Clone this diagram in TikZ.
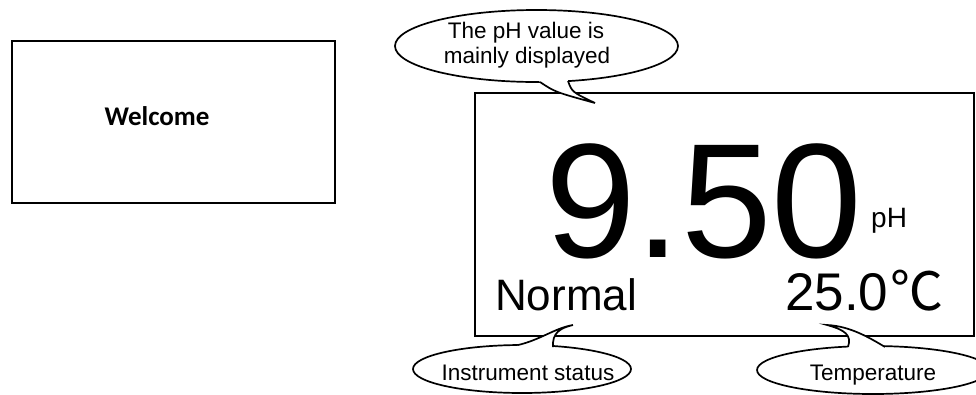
\documentclass[tikz,border=0pt]{standalone}
\usepackage{fontspec}
\setmainfont{Liberation Sans}
\newfontfamily\welcomefont{Carlito}
\newfontfamily\cjkfont{Noto Sans CJK JP}
\begin{document}
\begin{tikzpicture}[x=1pt,y=-1pt,
  boxframe/.style={draw=black,line width=2.4pt,inner sep=0pt,anchor=north west},
  bubble/.style={draw=black,fill=white,line width=1.7pt},
  tailfill/.style={fill=white},
  tailline/.style={draw=black,line width=1.7pt,line join=miter},
  lbl/.style={inner sep=0pt,anchor=base,font=\fontsize{22.5}{26}\selectfont},
  bigtxt/.style={inner sep=0pt,anchor=base west}]
\useasboundingbox[fill=white] (0,0) rectangle (976,394);

% Welcome box
\node[boxframe,minimum width=323pt,minimum height=162pt] (welcomebox) at (11,40) {};
\node[inner sep=0pt,font=\welcomefont\bfseries\fontsize{27}{30}\selectfont] (welcome) at (157,116) {Welcome};

% Display frame
\node[boxframe,line width=2pt,minimum width=499pt,minimum height=243pt] (display) at (474,92) {};

% Top callout
\draw[bubble] (536.5,46) ellipse [x radius=141.5pt, y radius=36pt];
\fill[tailfill] (536,77) -- (540,82) .. controls (555,92) .. (595,103) .. controls (572,92) .. (568,81) -- (567,76) -- cycle;
\draw[tailline] (540,82) .. controls (555,92) .. (595,103) .. controls (572,92) .. (568,81);
\node[lbl] (note1a) at (526,38) {The pH value is};
\node[lbl] (note1b) at (527,63) {mainly displayed};

% Instrument status callout
\draw[bubble] (522,369) ellipse [x radius=109pt, y radius=24pt];
\fill[tailfill] (517,350) -- (518,345) .. controls (540,340) and (555,328) .. (573,325) .. controls (560,328) and (552,333) .. (553,347) -- (553,351) -- cycle;
\draw[tailline] (518,345) .. controls (540,340) and (555,328) .. (573,325) .. controls (560,328) and (552,333) .. (553,347);
\node[lbl] (note2) at (528,380) {Instrument status};

% Temperature callout
\draw[bubble] (873,370) ellipse [x radius=116pt, y radius=24pt];
\fill[tailfill] (848,351) -- (848,347) .. controls (852,335) and (845,330) .. (827,325) .. controls (850,326) and (870,338) .. (885,347) -- (884,351) -- cycle;
\draw[tailline] (848,347) .. controls (852,335) and (845,330) .. (827,325) .. controls (850,326) and (870,338) .. (885,347);
\node[lbl] (note3) at (873,380) {Temperature};

% Display contents
\node[bigtxt,font=\fontsize{163}{163}\selectfont] (phval) at (545,257) {9.50};
\node[bigtxt,font=\fontsize{28}{28}\selectfont] (phunit) at (871,227) {pH};
\node[bigtxt,font=\fontsize{44}{44}\selectfont] (status) at (495,310) {Normal};
\node[bigtxt,font=\fontsize{53}{53}\selectfont] (temp) at (785,310) {25.0\kern2pt{\cjkfont ℃}};
\end{tikzpicture}
\end{document}
